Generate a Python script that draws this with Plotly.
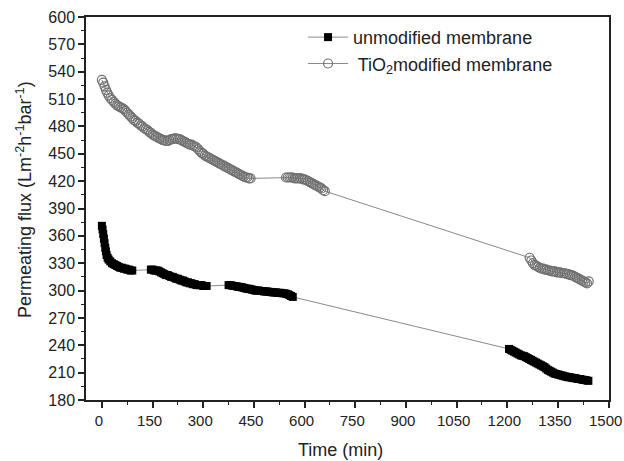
import plotly.graph_objects as go

# ---- data ----
unmod_t = [0, 2, 4, 6, 8, 10, 12, 14, 17, 20, 25, 30, 35, 40, 45, 50, 55, 60, 65, 70, 75, 80, 85, 90,
           145, 150, 155, 160, 165, 170, 175, 180, 185, 190, 195, 200, 205, 210, 215, 220, 225, 230,
           235, 240, 245, 250, 255, 260, 265, 270, 275, 280, 285, 290, 295, 300, 305, 310,
           375, 380, 385, 390, 395, 400, 405, 410, 415, 420, 425, 430, 435, 440, 445, 450, 455, 460,
           465, 470, 475, 480, 485, 490, 495, 500, 505, 510, 515, 520, 525, 530, 535, 540, 545, 550,
           555, 560, 565,
           1205, 1210, 1215, 1220, 1225, 1230, 1235, 1240, 1245, 1250, 1255, 1260, 1265, 1270, 1275,
           1280, 1285, 1290, 1295, 1300, 1305, 1310, 1315, 1320, 1325, 1330, 1335, 1340, 1345, 1350,
           1355, 1360, 1365, 1370, 1375, 1380, 1385, 1390, 1395, 1400, 1405, 1410, 1415, 1420, 1425,
           1430, 1435, 1440]
unmod_v = [371, 367, 362, 357, 352, 347, 343, 339, 336, 334, 332, 330, 329, 328, 327, 326, 325, 325, 324, 324, 323, 323, 322, 322,
           323, 323, 322, 322, 322, 321, 320, 319, 318, 317, 317, 316, 315, 315, 314, 313, 313, 312,
           311, 311, 310, 309, 309, 308, 308, 307, 307, 306, 306, 306, 306, 305, 305, 305,
           306, 306, 305.5, 305, 305, 304.5, 304, 304, 303.5, 303, 302.5, 302, 302, 301.5, 301, 300.5, 300, 300,
           300, 299.5, 299.5, 299, 299, 299, 298.5, 298.5, 298, 298, 298, 297.5, 297.5, 297.5, 297, 297, 296.5, 296,
           295, 294, 293,
           236, 235, 234, 233, 232, 231, 230, 229, 228.5, 228, 227, 226, 225, 224, 223,
           222, 221, 220, 219, 218, 217, 216, 214.5, 213, 212, 211, 210, 209, 208.5, 208,
           207.5, 207, 206.5, 206, 205.5, 205, 205, 204.5, 204, 204, 203.5, 203, 203, 202.5, 202,
           202, 201.5, 201]

tio2_t = [0, 4, 8, 12, 16, 20, 25, 30, 35, 40, 45, 50, 55, 60, 65, 70, 75, 80, 85, 90, 95, 100,
          105, 110, 115, 120, 125, 130, 135, 140, 145, 150, 155, 160, 165, 170, 175, 180, 185, 190,
          195, 200, 205, 210, 215, 220, 225, 230, 235, 240, 245, 250, 255, 260, 265, 270, 275, 280,
          285, 290, 295, 300, 305, 310, 315, 320, 325, 330, 335, 340, 345, 350, 355, 360, 365, 370,
          375, 380, 385, 390, 395, 400, 405, 410, 415, 420, 425, 430, 435, 440,
          545, 550, 555, 560, 565, 570, 575, 580, 585, 590, 595, 600, 605, 610, 615, 620, 625, 630,
          635, 640, 645, 650, 655, 660,
          1266, 1271, 1276, 1281, 1286, 1291, 1296, 1301, 1306, 1311, 1316, 1321, 1326, 1331, 1336,
          1341, 1346, 1351, 1356, 1361, 1366, 1371, 1376, 1381, 1386, 1391, 1396, 1401, 1406, 1411,
          1416, 1421, 1426, 1431, 1436, 1441]
tio2_v = [531, 528, 524, 520, 517, 514, 511, 509, 507, 505, 503, 502, 501, 500, 499, 497, 495, 493, 491, 489, 487, 486,
          484, 483, 481, 480, 478, 477, 476, 474, 473, 471, 470, 469, 468, 467, 466, 465, 465, 464,
          464, 465, 466, 466, 467, 467, 466, 466, 465, 464, 463, 462, 461, 460, 460, 459, 458, 457,
          455, 453, 451, 450, 448, 447, 446, 445, 444, 443, 442, 441, 440, 439, 438, 437, 436, 435,
          434, 433, 432, 431, 430, 429, 428, 427, 426, 425, 424, 424, 423, 423,
          424, 424, 424, 424, 424, 423, 423, 423, 423, 423, 422, 422, 421, 420, 419, 418, 417, 416,
          415, 414, 413, 412, 410, 409,
          336, 333, 330, 328, 327, 326, 325, 324, 324, 323, 323, 322, 322, 321, 321,
          321, 320, 320, 320, 319, 319, 319, 318, 318, 317, 317, 316, 315, 314, 313,
          312, 311, 310, 309, 308, 310]

x_ticks = [0, 150, 300, 450, 600, 750, 900, 1050, 1200, 1350, 1500]
y_ticks = [180, 210, 240, 270, 300, 330, 360, 390, 420, 450, 480, 510, 540, 570, 600]
x_title = "Time (min)"
y_title = "Permeating flux (Lm<sup>-2</sup>h<sup>-1</sup>bar<sup>-1</sup>)"

FONT = "Liberation Sans, Arial, sans-serif"
TXT = "#222222"

fig = go.Figure()
fig.add_trace(go.Scatter(
    x=unmod_t, y=unmod_v, mode="lines+markers", name="unmodified membrane",
    line=dict(color="#8a8a8a", width=1),
    marker=dict(symbol="square", size=8, color="#000000", line=dict(width=0)),
))
fig.add_trace(go.Scatter(
    x=tio2_t, y=tio2_v, mode="lines+markers", name=" TiO<sub>2</sub>modified membrane",
    line=dict(color="#8a8a8a", width=1),
    marker=dict(symbol="circle-open", size=9, color="#707070", line=dict(width=1.2)),
))

fig.update_layout(
    width=624, height=461,
    margin=dict(l=86, r=15, t=17, b=61, autoexpand=False),
    paper_bgcolor="white", plot_bgcolor="white",
    font=dict(family=FONT, size=16, color=TXT),
    showlegend=True,
    legend=dict(x=0.415, y=0.995, xanchor="left", yanchor="top",
                font=dict(family=FONT, size=18, color=TXT),
                bgcolor="rgba(0,0,0,0)", tracegroupgap=0, itemwidth=40),
    annotations=[
        dict(text=x_title, xref="paper", yref="paper", x=0.486, y=-0.13,
             xanchor="center", yanchor="middle", showarrow=False,
             font=dict(size=18, family=FONT, color=TXT)),
        dict(text=y_title, xref="paper", yref="paper", x=(24 - 86) / 523, y=0.522,
             xanchor="center", yanchor="middle", showarrow=False, textangle=-90,
             font=dict(size=18, family=FONT, color=TXT)),
    ],
)
fig.update_xaxes(
    range=[-47, 1501], tickmode="array", tickvals=x_ticks, ticktext=[str(v) for v in x_ticks],
    automargin=False, ticklabeloverflow="allow", ticklabelshift=-3,
    showgrid=False, zeroline=False, showline=True, linecolor=TXT, linewidth=1.5, mirror=True,
    ticks="outside", ticklen=6, tickwidth=1.5, tickcolor=TXT,
    tickfont=dict(family=FONT, size=15, color=TXT),
    minor=dict(ticks="outside", tickvals=[75, 225, 375, 525, 675, 825, 975, 1125, 1275, 1425],
               ticklen=3, tickwidth=1.2, tickcolor=TXT),
)
fig.update_yaxes(
    range=[180, 600], tickmode="array", tickvals=y_ticks, ticktext=[str(v) for v in y_ticks],
    automargin=False,
    showgrid=False, zeroline=False, showline=True, linecolor=TXT, linewidth=1.5, mirror=True,
    ticks="outside", ticklen=6, tickwidth=1.5, tickcolor=TXT,
    tickfont=dict(family=FONT, size=16, color=TXT),
    minor=dict(ticks="outside", tickvals=[195, 225, 255, 285, 315, 345, 375, 405, 435, 465, 495, 525, 555, 585],
               ticklen=3, tickwidth=1.2, tickcolor=TXT),
)

fig.write_html("out.html")
